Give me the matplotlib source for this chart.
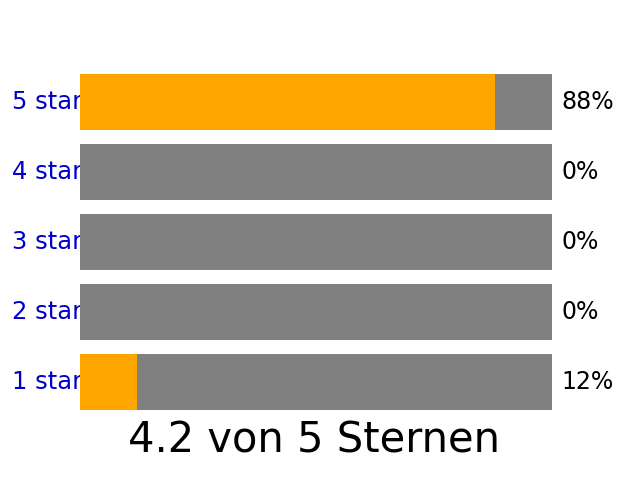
import matplotlib
matplotlib.use("Agg")
import matplotlib.pyplot as plt

labels = ["5 stars", "4 stars", "3 stars", "2 stars", "1 stars"]
percents = [88, 0, 0, 0, 12]
title = "4.2 von 5 Sternen"

fig = plt.figure(figsize=(6.4, 4.8), dpi=100)
ax = fig.add_axes([0.125, 0.1458, 0.7375, 0.7])

ypos = list(range(len(labels)))[::-1]
ax.barh(ypos, [100] * len(labels), height=0.8, color="gray", zorder=3)
ax.barh(ypos, percents, height=0.8, color="orange", zorder=4)

for y, lab, p in zip(ypos, labels, percents):
    ax.text(-14.4, y, lab, color="mediumblue", fontsize=17.5, va="center", ha="left", zorder=1)
    ax.text(102.0, y, f"{p}%", color="black", fontsize=17, va="center", ha="left")

ax.text(49.5, -0.83, title, fontsize=30, ha="center", va="center")

ax.set_xlim(0, 100)
ax.set_ylim(-0.4, 4.4)
ax.axis("off")

fig.savefig("out.png", dpi=100)
